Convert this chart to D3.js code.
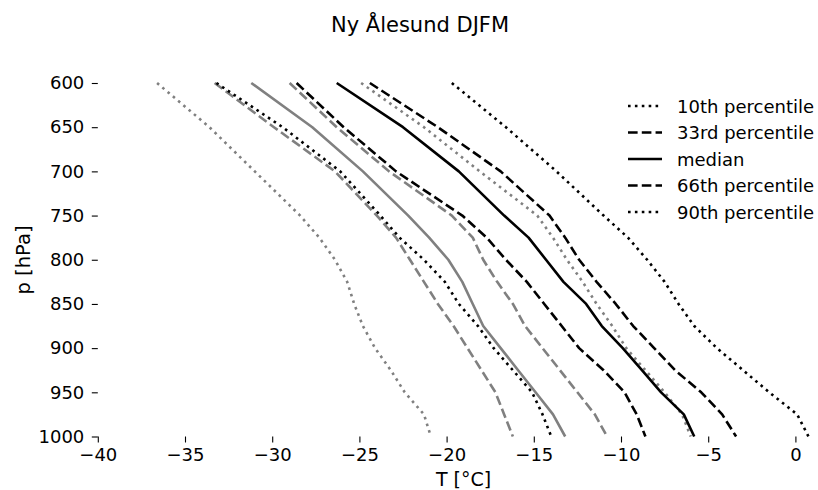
<!DOCTYPE html>
<html>
<head>
<meta charset="utf-8">
<script src="https://cdn.jsdelivr.net/npm/d3@7"></script>
<style>
  body { margin: 0; background: #fff; }
  svg text { font-family: "DejaVu Sans", sans-serif; fill: #000; }
</style>
</head>
<body>
<svg id="chart" width="818" height="490"></svg>
<script>
// Pressure levels (hPa)
const levels = [600, 650, 700, 750, 775, 800, 825, 850, 875, 900, 925, 950, 975, 1000];

// Black series (percentiles, °C)
const blackP10 = [-33.2, -29.4, -26.1, -23.8, -22.7, -21.3, -20.1, -19.3, -18.2, -17.3, -16.2, -15.1, -14.5, -14.0];
const blackP33 = [-28.6, -25.9, -22.9, -19.1, -17.7, -16.6, -15.4, -14.4, -13.4, -12.4, -11.0, -9.8, -9.1, -8.6];
const blackP50 = [-26.3, -22.5, -19.3, -16.7, -15.3, -14.3, -13.3, -12.0, -11.1, -9.9, -8.8, -7.7, -6.4, -5.8];
const blackP66 = [-24.4, -20.5, -16.9, -14.1, -13.2, -12.4, -11.4, -10.3, -9.3, -8.1, -6.9, -5.4, -4.2, -3.4];
const blackP90 = [-19.7, -16.6, -13.7, -11.0, -9.6, -8.5, -7.5, -6.7, -5.8, -4.5, -3.0, -1.5, 0.1, 0.75];

// Grey series (percentiles, °C)
const greyP10 = [-36.6, -33.6, -31.0, -28.4, -27.3, -26.4, -25.7, -25.3, -24.8, -24.1, -23.2, -22.4, -21.3, -20.9];
const greyP33 = [-33.3, -29.9, -26.4, -24.0, -22.9, -22.1, -21.3, -20.5, -19.6, -18.8, -18.0, -17.2, -16.7, -16.2];
const greyP50 = [-31.2, -27.7, -24.8, -22.2, -21.0, -19.9, -19.1, -18.5, -17.9, -16.9, -15.9, -14.9, -13.9, -13.2];
const greyP66 = [-29.0, -26.3, -23.3, -19.7, -18.5, -17.9, -17.1, -16.2, -15.5, -14.5, -13.5, -12.5, -11.5, -10.8];
const greyP90 = [-24.9, -21.3, -18.1, -14.8, -13.9, -13.1, -12.2, -11.4, -10.5, -9.7, -8.6, -7.5, -6.5, -6.0];

const xTicks = [-40, -35, -30, -25, -20, -15, -10, -5, 0];
const yTicks = [600, 650, 700, 750, 800, 850, 900, 950, 1000];
const legendLabels = ["10th percentile", "33rd percentile", "median", "66th percentile", "90th percentile"];
const titleText = "Ny Ålesund DJFM";

const LW = 2.6;
const styles = {
  dotted: `${LW * 1} ${LW * 1.65}`,
  dashed: `${LW * 3.7} ${LW * 1.6}`,
  solid: null
};
const styleOrder = ["dotted", "dashed", "solid", "dashed", "dotted"];

const svg = d3.select("#chart");
const x = d3.scaleLinear().domain([-40, 0]).range([97.8, 795.4]);
const y = d3.scaleLinear().domain([600, 1000]).range([83, 436.5]);

const line = d3.line().x(d => x(d.t)).y(d => y(d.p));

function drawSeries(vals, color, style) {
  const data = levels.map((p, i) => ({ p, t: vals[i] }));
  const path = svg.append("path")
    .datum(data)
    .attr("d", line)
    .attr("fill", "none")
    .attr("stroke", color)
    .attr("stroke-width", LW)
    .attr("stroke-linejoin", "round")
    .attr("stroke-linecap", "butt");
  if (styles[style]) path.attr("stroke-dasharray", styles[style]);
}

const greySets = [greyP10, greyP33, greyP50, greyP66, greyP90];
const blackSets = [blackP10, blackP33, blackP50, blackP66, blackP90];
greySets.forEach((s, i) => drawSeries(s, "#808080", styleOrder[i]));
blackSets.forEach((s, i) => drawSeries(s, "#000000", styleOrder[i]));

const fmt = d => d < 0 ? "\u2212" + Math.abs(d) : String(d);

// X axis
const gx = svg.append("g")
  .attr("transform", `translate(0,${y(1000)})`)
  .call(d3.axisBottom(x).tickValues(xTicks).tickFormat(fmt).tickSize(6).tickPadding(6));
gx.select(".domain").remove();
gx.selectAll("text").style("font-size", "18px").attr("font-family", "DejaVu Sans");
gx.selectAll("line").attr("stroke", "#000").attr("stroke-width", 1.1);

// Y axis
const gy = svg.append("g")
  .attr("transform", `translate(${x(-40)},0)`)
  .call(d3.axisLeft(y).tickValues(yTicks).tickFormat(d => String(d)).tickSize(6).tickPadding(7.5));
gy.select(".domain").remove();
gy.selectAll("text").style("font-size", "18px").attr("font-family", "DejaVu Sans");
gy.selectAll("line").attr("stroke", "#000").attr("stroke-width", 1.1);

// Title
svg.append("text")
  .attr("x", 420).attr("y", 32)
  .attr("text-anchor", "middle")
  .style("font-size", "21px")
  .text(titleText);

// Axis labels
svg.append("text")
  .attr("x", 463.5).attr("y", 485.5)
  .attr("text-anchor", "middle")
  .style("font-size", "19px")
  .text("T [\u00B0C]");

svg.append("text")
  .attr("transform", "translate(30,260) rotate(-90)")
  .attr("text-anchor", "middle")
  .style("font-size", "19.5px")
  .text("p [hPa]");

// Legend
const lg = svg.append("g");
legendLabels.forEach((lab, i) => {
  const cy = 106 + i * 26.5;
  const l = lg.append("line")
    .attr("x1", 628).attr("x2", 662)
    .attr("y1", cy).attr("y2", cy)
    .attr("stroke", "#000")
    .attr("stroke-width", LW);
  if (styles[styleOrder[i]]) l.attr("stroke-dasharray", styles[styleOrder[i]]);
  lg.append("text")
    .attr("x", 677).attr("y", cy + 6.5)
    .style("font-size", "18px")
    .text(lab);
});
</script>
</body>
</html>
